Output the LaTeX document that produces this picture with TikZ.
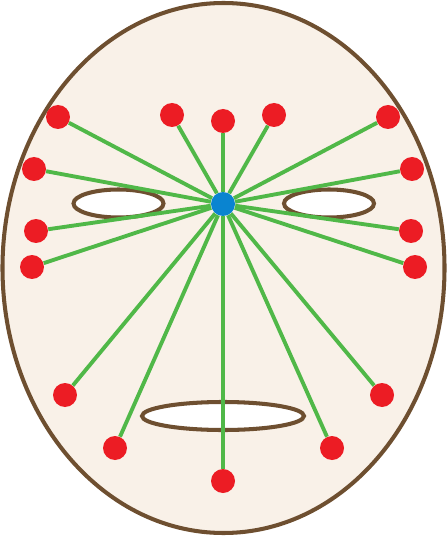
\documentclass[tikz,border=0pt]{standalone}
\usepackage{tikz}
\usetikzlibrary{positioning}
\definecolor{skin}{HTML}{F9F1E8}
\definecolor{brownline}{HTML}{6E4F30}
\definecolor{linkgreen}{HTML}{50B848}
\definecolor{dotred}{HTML}{EC1C24}
\definecolor{dotblue}{HTML}{0A84D0}

\begin{document}
\begin{tikzpicture}[x=0.02cm,y=-0.02cm,
  dot/.style={circle, fill=dotred, inner sep=0pt, minimum size=0.48cm},
  hub/.style={circle, fill=dotblue, inner sep=0pt, minimum size=0.48cm},
  link/.style={linkgreen, line width=2.2pt}]
\useasboundingbox (0,0) rectangle (447,536);
% Face outline
\draw[brownline, line width=2.3pt, fill=skin] (223.5,268) ellipse (221 and 265);
% Eyes and mouth
\draw[brownline, line width=2.3pt, fill=white] (118.5,203.5) ellipse (45 and 14);
\draw[brownline, line width=2.3pt, fill=white] (329,203.5) ellipse (45 and 14);
\draw[brownline, line width=2.3pt, fill=white] (223,416) ellipse (81 and 14);
% Hub
\node[hub] (c) at (223,204) {};
% Landmarks
\node[dot] (p1) at (58,117) {};
\node[dot] (p2) at (172,115) {};
\node[dot] (p3) at (223,121) {};
\node[dot] (p4) at (274,115) {};
\node[dot] (p5) at (388,117) {};
\node[dot] (p6) at (34,169) {};
\node[dot] (p7) at (412,169) {};
\node[dot] (p8) at (36,231) {};
\node[dot] (p9) at (411,231) {};
\node[dot] (p10) at (32,267) {};
\node[dot] (p11) at (415,267) {};
\node[dot] (p12) at (65,395) {};
\node[dot] (p13) at (382,395) {};
\node[dot] (p14) at (115,448) {};
\node[dot] (p15) at (332,448) {};
\node[dot] (p16) at (223,481) {};
% Links
\draw[link] (c) -- (p1);
\draw[link] (c) -- (p2);
\draw[link] (c) -- (p3);
\draw[link] (c) -- (p4);
\draw[link] (c) -- (p5);
\draw[link] (c) -- (p6);
\draw[link] (c) -- (p7);
\draw[link] (c) -- (p8);
\draw[link] (c) -- (p9);
\draw[link] (c) -- (p10);
\draw[link] (c) -- (p11);
\draw[link] (c) -- (p12);
\draw[link] (c) -- (p13);
\draw[link] (c) -- (p14);
\draw[link] (c) -- (p15);
\draw[link] (c) -- (p16);
\end{tikzpicture}
\end{document}
